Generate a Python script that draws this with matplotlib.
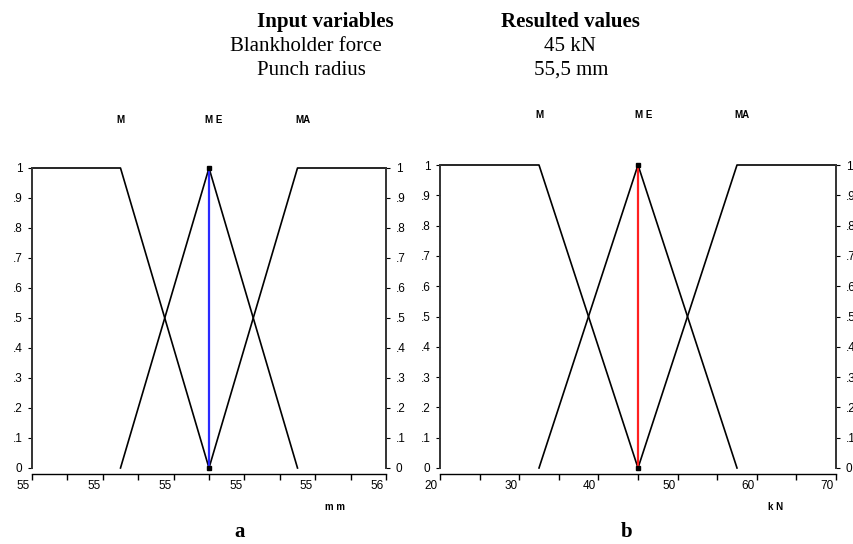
import matplotlib
matplotlib.use('Agg')
import matplotlib.pyplot as plt
from matplotlib.ticker import MultipleLocator
from matplotlib.transforms import ScaledTranslation

# panel a: punch radius (mm)
mm_M_x = [55.0, 55.25, 55.5]
mm_M_y = [1, 1, 0]
mm_ME_x = [55.25, 55.5, 55.75]
mm_ME_y = [0, 1, 0]
mm_MA_x = [55.5, 55.75, 56.0]
mm_MA_y = [0, 1, 1]
mm_value = 55.5
mm_ticks = [55.0, 55.2, 55.4, 55.6, 55.8, 56.0]
mm_ticklabels = ['55', '55', '55', '55', '55', '56']

# panel b: blankholder force (kN)
kn_M_x = [20, 32.5, 45]
kn_M_y = [1, 1, 0]
kn_ME_x = [32.5, 45, 57.5]
kn_ME_y = [0, 1, 0]
kn_MA_x = [45, 57.5, 70]
kn_MA_y = [0, 1, 1]
kn_value = 45
kn_ticks = [20, 30, 40, 50, 60, 70]
kn_ticklabels = ['20', '30', '40', '50', '60', '70']

y_ticks = [0, .1, .2, .3, .4, .5, .6, .7, .8, .9, 1]
y_ticklabels = ['0', '.1', '.2', '.3', '.4', '.5', '.6', '.7', '.8', '.9', '1']
set_names = ['M', 'M E', 'MA']

serif = 'Liberation Serif'
sans = 'Liberation Sans'

fig = plt.figure(figsize=(8.54, 5.44), dpi=100)
ax_a = fig.add_axes([32/854, 1-468/544, 354/854, 300/544])
ax_b = fig.add_axes([440/854, 1-468/544, 396/854, 303/544])


def draw_panel(ax, sets, value, color, ticks, ticklabels, minor, unit, xlim,
               name_y, name_dx):
    for xs, ys in sets:
        ax.plot(xs, ys, color='black', lw=1.2, clip_on=False)
    ax.plot([value, value], [0, 1], color=color, lw=1.6, clip_on=False)
    ax.plot([value, value], [0, 1], ls='none', marker='s', ms=2.5,
            color='black', clip_on=False)
    # set names above the peaks
    span = xlim[1] - xlim[0]
    for (xs, ys), name, dx in zip(sets, set_names, name_dx):
        ax.text(xs[1] + dx * span, name_y, name, ha='center', va='center',
                fontsize=7, fontweight='bold', family=sans)
    ax.set_xlim(*xlim)
    ax.set_ylim(0, 1)
    ax.set_xticks(ticks)
    ax.set_xticklabels([])
    ax.xaxis.set_minor_locator(MultipleLocator(minor))
    ax.set_yticks(y_ticks)
    ax.tick_params(axis='y', left=True, right=True, labelleft=True,
                   labelright=True, direction='out', length=3, width=0.8,
                   pad=4)
    ax.tick_params(axis='x', which='both', direction='out', length=4.5,
                   width=1.0, pad=1)
    ax.set_yticklabels(y_ticklabels, family=sans, fontsize=8.5)
    # x labels sit just left of their tick, below the offset axis line
    trans = ax.get_xaxis_transform() + ScaledTranslation(
        -2/100, -18/100, fig.dpi_scale_trans)
    for t, lab in zip(ticks, ticklabels):
        ax.text(t, 0, lab, transform=trans, ha='right', va='center',
                fontsize=8.5, family=sans, clip_on=False)
    ax.spines['top'].set_visible(False)
    for s in ['left', 'right']:
        ax.spines[s].set_linewidth(1.4)
        ax.spines[s].set_color('#333333')
    ax.spines['bottom'].set_position(('outward', 4))
    ax.spines['bottom'].set_linewidth(1.0)
    ax.text(unit[1], -0.13, unit[0], transform=ax.transAxes, ha='center',
            va='center', fontsize=7, fontweight='bold', family=sans)


draw_panel(ax_a, [(mm_M_x, mm_M_y), (mm_ME_x, mm_ME_y), (mm_MA_x, mm_MA_y)],
           mm_value, '#2a2aff', mm_ticks, mm_ticklabels, 0.1, ('m m', 0.857),
           (55.0, 56.0), 1.16, [0, 0.012, 0.015])
draw_panel(ax_b, [(kn_M_x, kn_M_y), (kn_ME_x, kn_ME_y), (kn_MA_x, kn_MA_y)],
           kn_value, '#ff2020', kn_ticks, kn_ticklabels, 5, ('k N', 0.848),
           (20, 70), 1.165, [0, 0.015, 0.013])

# header table
fig.text(325/854, 1-27/544, 'Input variables', ha='center', va='baseline',
         fontsize=15, fontweight='bold', family=serif)
fig.text(570/854, 1-27/544, 'Resulted values', ha='center', va='baseline',
         fontsize=15, fontweight='bold', family=serif)
fig.text(306/854, 1-51/544, 'Blankholder force', ha='center', va='baseline',
         fontsize=15, family=serif)
fig.text(570/854, 1-51/544, '45 kN', ha='center', va='baseline',
         fontsize=15, family=serif)
fig.text(311/854, 1-75/544, 'Punch radius', ha='center', va='baseline',
         fontsize=15, family=serif)
fig.text(571/854, 1-75/544, '55,5 mm', ha='center', va='baseline',
         fontsize=15, family=serif)

fig.text(240/854, 1-537/544, 'a', ha='center', va='baseline', fontsize=15,
         fontweight='bold', family=serif)
fig.text(627/854, 1-537/544, 'b', ha='center', va='baseline', fontsize=15,
         fontweight='bold', family=serif)

fig.savefig('out.png', dpi=100)
